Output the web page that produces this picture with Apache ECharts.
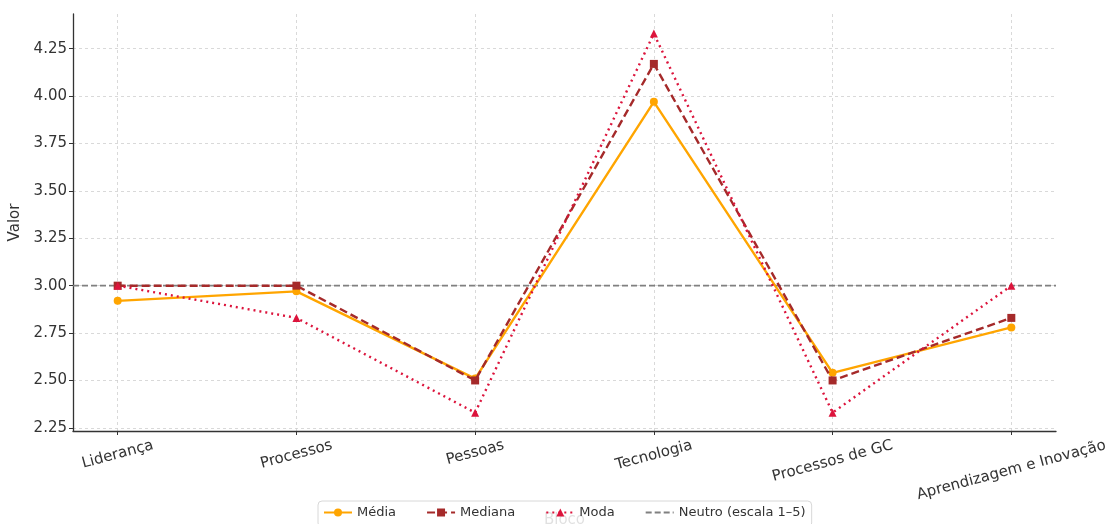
<!DOCTYPE html>
<html>
<head>
<meta charset="utf-8">
<script src="https://cdn.jsdelivr.net/npm/echarts@6/dist/echarts.min.js"></script>
<style>html,body{margin:0;padding:0;background:#fff}#c{width:1105px;height:524px}</style>
</head>
<body>
<div id="c"></div>
<script>
const categories = ['Liderança','Processos','Pessoas','Tecnologia','Processos de GC','Aprendizagem e Inovação'];
const media   = [2.92, 2.97, 2.51, 3.97, 2.54, 2.78];
const mediana = [3.00, 3.00, 2.50, 4.17, 2.50, 2.83];
const moda    = [3.00, 2.83, 2.33, 4.33, 2.33, 3.00];
const neutro  = 3.0;
const yTicks  = [2.25, 2.50, 2.75, 3.00, 3.25, 3.50, 3.75, 4.00, 4.25];

const FONT = 'DejaVu Sans';
const FS = 15;
const ROT = 15 * Math.PI / 180;

// measure label widths to emulate matplotlib's rotated bbox alignment
const cv = document.createElement('canvas').getContext('2d');
cv.font = FS + 'px "' + FONT + '"';
const rich = {};
categories.forEach((c, i) => {
  const w = cv.measureText(c).width;
  const d = w * Math.sin(ROT) / 2;
  const a = d * Math.cos(ROT), b = d * Math.sin(ROT);
  rich['l' + i] = {
    fontFamily: FONT, fontSize: FS, color: '#333',
    padding: [2 * a, 2 * b, 0, 0]
  };
});

const xs = categories.map((_, i) => i);
const pts = arr => arr.map((v, i) => [xs[i], v]);

const chart = echarts.init(document.getElementById('c'), null, {renderer: 'canvas'});
const gridLine = {show: true, lineStyle: {color: '#d0d0d0', width: 0.8, type: [3, 3]}};
chart.setOption({
  animation: false,
  backgroundColor: '#fff',
  textStyle: {fontFamily: FONT},
  grid: {left: 73, right: 49, top: 14, bottom: 93, containLabel: false, outerBoundsMode: 'none'},
  xAxis: {
    type: 'value', min: -0.25, max: 5.25,
    name: 'Bloco', nameLocation: 'middle', nameGap: 82,
    nameTextStyle: {fontFamily: FONT, fontSize: FS, color: '#333'},
    axisLine: {show: true, onZero: false, lineStyle: {color: '#333', width: 1.3}},
    axisTick: {show: true, length: 4, customValues: xs, lineStyle: {color: '#333'}},
    axisLabel: {
      customValues: xs, rotate: 15, margin: 14, align: 'center', verticalAlign: 'middle',
      formatter: v => '{l' + v + '|' + categories[v] + '}', rich: rich,
      fontFamily: FONT, fontSize: FS, color: '#333'
    },
    splitLine: gridLine
  },
  yAxis: {
    type: 'value', min: 2.2333, max: 4.4333,
    name: 'Valor', nameLocation: 'middle', nameGap: 50,
    nameTextStyle: {fontFamily: FONT, fontSize: FS, color: '#333'},
    axisLine: {show: true, onZero: false, lineStyle: {color: '#333', width: 1.3}},
    axisTick: {show: true, length: 4, customValues: yTicks, lineStyle: {color: '#333'}},
    axisLabel: {customValues: yTicks, formatter: v => v.toFixed(2), fontFamily: FONT, fontSize: FS, color: '#333', margin: 6},
    splitLine: gridLine
  },
  legend: {
    top: 501, left: 318,
    backgroundColor: 'rgba(255,255,255,0.85)', borderColor: '#d8d8d8', borderWidth: 1, borderRadius: 4,
    padding: [5, 6, 8, 5], itemGap: 30, itemWidth: 28, itemHeight: 10,
    textStyle: {fontFamily: FONT, fontSize: 13, color: '#333'},
    data: ['Média', 'Mediana', 'Moda', {name: 'Neutro (escala 1–5)', itemStyle: {opacity: 0}}]
  },
  series: [
    {name: 'Média', type: 'line', data: pts(media), symbol: 'circle', symbolSize: 8,
     itemStyle: {color: '#FFA500'}, lineStyle: {color: '#FFA500', width: 2.4}, z: 3},
    {name: 'Mediana', type: 'line', data: pts(mediana), symbol: 'rect', symbolSize: 8,
     itemStyle: {color: '#A52A2A'}, lineStyle: {color: '#A52A2A', width: 2.4, type: [8, 4]}, z: 4},
    {name: 'Moda', type: 'line', data: pts(moda), symbol: 'triangle', symbolSize: 8,
     itemStyle: {color: '#DC143C'}, lineStyle: {color: '#DC143C', width: 2.4, type: [2, 4]}, z: 5},
    {name: 'Neutro (escala 1–5)', type: 'line', data: [[-0.25, neutro], [5.25, neutro]], symbol: 'none',
     itemStyle: {color: '#808080'}, lineStyle: {color: '#808080', width: 1.8, type: [6, 3]}, z: 2}
  ]
});
</script>
</body>
</html>
